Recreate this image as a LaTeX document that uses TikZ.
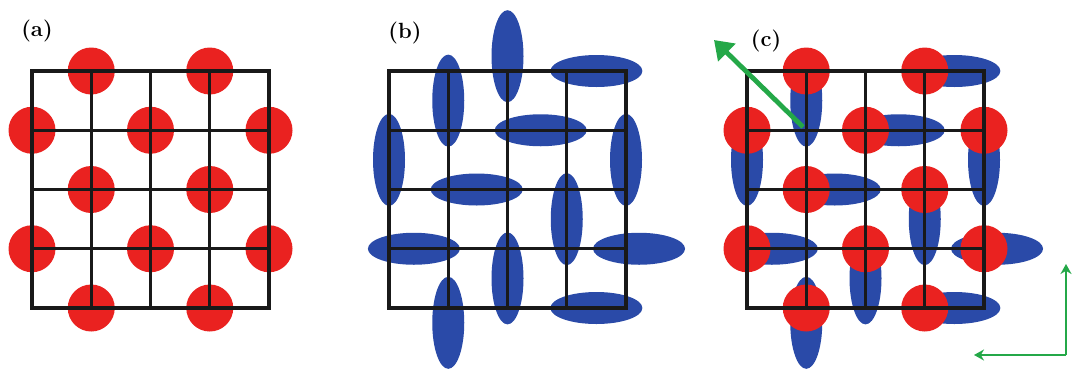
\documentclass[tikz,border=0pt]{standalone}
\usetikzlibrary{arrows.meta}
\definecolor{dotred}{RGB}{234,34,32}
\definecolor{ellblue}{RGB}{42,74,168}
\definecolor{arrgreen}{RGB}{36,168,72}
\definecolor{gridblack}{RGB}{25,25,25}
\tikzset{
  lattice/.style={shift={(#1,71)}, x=59.25pt, y=-59.25pt},
  atom/.style={fill=dotred},
  hell/.style={fill=ellblue},
  gridline/.style={draw=gridblack, line width=3.1pt, line cap=rect},
  panellabel/.style={font=\bfseries\fontsize{22}{22}\selectfont, inner sep=0pt},
}
\newcommand{\atomat}[1]{\fill[atom] #1 circle [radius=23.5pt];}
\newcommand{\hel}[1]{\fill[hell] #1 ellipse [x radius=46pt, y radius=16pt];}
\newcommand{\vel}[1]{\fill[hell] #1 ellipse [x radius=16pt, y radius=46pt];}
\newcommand{\latgrid}{\foreach \k in {0,...,4} {\draw[gridline] (\k,0) -- (\k,4);}
  \foreach \k in {0,...,4} {\draw[gridline] (0,\k) -- (4,\k);}}
\newcommand{\allatoms}{%
  \foreach \p in {(1,0),(3,0),(0,1),(2,1),(4,1),(1,2),(3,2),(0,3),(2,3),(4,3),(1,4),(3,4)} {\atomat{\p}}}
\newcommand{\commonells}{%
  \vel{(1,0.5)} \hel{(3.5,0)} \hel{(2.56,1)} \vel{(0,1.5)} \vel{(4,1.5)}
  \hel{(1.48,2)} \vel{(3,2.5)} \hel{(0.42,3)} \hel{(4.22,3)} \vel{(2,3.5)}
  \vel{(1,4.25)} \hel{(3.5,4)}}
\begin{document}
\begin{tikzpicture}[x=1pt, y=-1pt]
\useasboundingbox (0,0) rectangle (1076,376);
\fill[white] (0,0) rectangle (1076,376);
% panel (a)
\begin{scope}[lattice=32]
  \allatoms
  \latgrid
\end{scope}
\node[panellabel] (la) at (37,31) {(a)};
% panel (b)
\begin{scope}[lattice=389]
  \commonells
  \vel{(2,-0.25)}
  \latgrid
\end{scope}
\node[panellabel] (lb) at (405,33) {(b)};
% panel (c)
\begin{scope}[lattice=747]
  \commonells
  \allatoms
  \latgrid
\end{scope}
\node[panellabel] (lc) at (766,41) {(c)};
% green arrows
\coordinate (gs) at (803,127);
\coordinate (ge) at (714,40);
\draw[arrgreen, line width=4.8pt, -{Triangle[length=18pt,width=24pt]}] (gs) -- (ge);
\coordinate (ax0) at (1066,355);
\coordinate (axy) at (1066,264);
\coordinate (axx) at (974,355);
\draw[arrgreen, line width=2pt, -{Stealth[length=10pt,width=11pt]}] (ax0) -- (axy);
\draw[arrgreen, line width=2pt, -{Stealth[length=10pt,width=11pt]}] (ax0) -- (axx);
\end{tikzpicture}
\end{document}
